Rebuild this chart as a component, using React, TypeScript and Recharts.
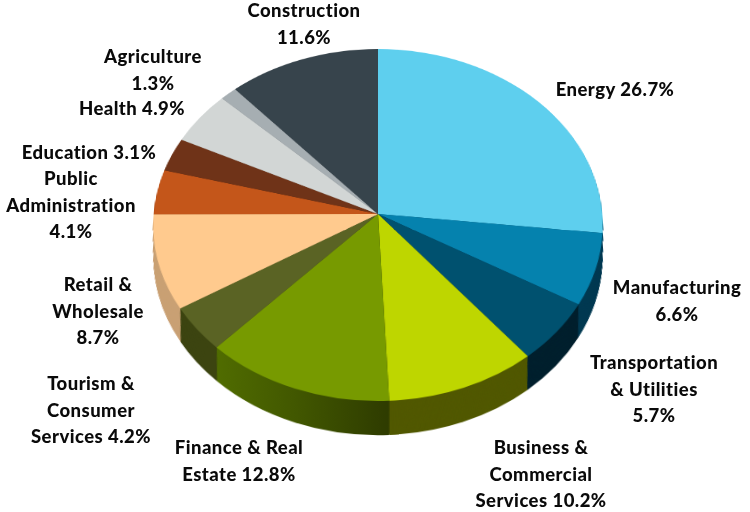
import React from 'react';
import { PieChart, Pie, Cell } from 'recharts';

const categories = [
  'Energy', 'Manufacturing', 'Transportation & Utilities', 'Business & Commercial Services',
  'Finance & Real Estate', 'Tourism & Consumer Services', 'Retail & Wholesale',
  'Public Administration', 'Education', 'Health', 'Agriculture', 'Construction',
];
const shares = [26.7, 6.6, 5.7, 10.2, 12.8, 4.2, 8.7, 4.1, 3.1, 4.9, 1.3, 11.6];

const topColors = [
  '#5ECFEE', '#0582AE', '#00516F', '#BED600', '#779A00', '#5A6324',
  '#FFCA8E', '#C4561A', '#6F3318', '#D2D6D5', '#A6AEB2', '#37444C',
];
const sideColors = [
  '#004A68', '#003A52', '#00202E', '#515800', 'url(#financeSide)', '#3C4410',
  '#C9A074', '#8A3C12', '#4A2210', '#9A9E9D', '#787E82', '#222A30',
];

const labelLines = [
  ['Energy 26.7%'],
  ['Manufacturing', '6.6%'],
  ['Transportation', '& Utilities', '5.7%'],
  ['Business &', 'Commercial', 'Services 10.2%'],
  ['Finance & Real', 'Estate 12.8%'],
  ['Tourism &', 'Consumer', 'Services 4.2%'],
  ['Retail &', 'Wholesale', '8.7%'],
  ['Public', 'Administration', '4.1%'],
  ['Education 3.1%'],
  ['Health 4.9%'],
  ['Agriculture', '1.3%'],
  ['Construction', '11.6%'],
];
// centre x and first baseline of every label block
const labelAnchors = [
  [615, 96], [677, 294], [654, 369], [541, 454], [239, 454], [91, 390],
  [98, 291], [71, 185], [89, 159], [132, 115], [153, 63], [304, 17],
];

const chartData = categories.map((name, i) => ({ name, value: shares[i] }));

const DEPTH = 41;
const depthSteps = Array.from({ length: DEPTH }, (_, i) => DEPTH - i);

// The pie is drawn as a flat circle and then tilted with a perspective matrix,
// the apex ends up at (378, 214) like in the 3D original.
const tilt = 'matrix3d(0.997,0,0,0, 0,0.779,0,-0.000278, 0,0,1,0, 0,0,0,1)';

const App: React.FC = () => {
  return (
    <div style={{ position: 'absolute', left: 0, top: 0, width: 750, height: 512, overflow: 'hidden', background: '#fff', filter: 'blur(0.4px)' }}>
      <div style={{ position: 'absolute', left: 143, top: -21, width: 470, height: 520, transform: tilt, transformOrigin: '235px 235px' }}>
        <PieChart width={470} height={520} margin={{ top: 0, right: 0, bottom: 0, left: 0 }}>
          <defs>
            <linearGradient id="financeSide" x1="0" y1="0" x2="1" y2="0">
              <stop offset="0%" stopColor="#506C00" />
              <stop offset="45%" stopColor="#425800" />
              <stop offset="100%" stopColor="#2E3B00" />
            </linearGradient>
          </defs>
          {depthSteps.map((step) => (
            <Pie
              key={step}
              data={chartData}
              dataKey="value"
              cx={235}
              cy={235 + step}
              outerRadius={225 - step * 0.07}
              startAngle={90}
              endAngle={-270}
              stroke="none"
              labelLine={false}
              isAnimationActive={false}
            >
              {chartData.map((entry, i) => (
                <Cell key={entry.name} fill={sideColors[i]} stroke="none" />
              ))}
            </Pie>
          ))}
          <Pie
            data={chartData}
            dataKey="value"
            cx={235}
            cy={235}
            outerRadius={225}
            startAngle={90}
            endAngle={-270}
            stroke="none"
            labelLine={false}
            isAnimationActive={false}
          >
            {chartData.map((entry, i) => (
              <Cell key={entry.name} fill={topColors[i]} stroke="none" />
            ))}
          </Pie>
        </PieChart>
      </div>
      <svg width={750} height={512} style={{ position: 'absolute', left: 0, top: 0 }}>
        {labelLines.map((lines, i) => (
          <text
            key={categories[i]}
            textAnchor="middle"
            fontFamily="Lato, sans-serif"
            fontWeight={900}
            fontSize={18.5}
            letterSpacing={0.45}
            fill="#0a0a0a"
          >
            {lines.map((line, j) => (
              <tspan key={line} x={labelAnchors[i][0]} y={labelAnchors[i][1] + j * 26.5}>{line}</tspan>
            ))}
          </text>
        ))}
      </svg>
    </div>
  );
};

export default App;
